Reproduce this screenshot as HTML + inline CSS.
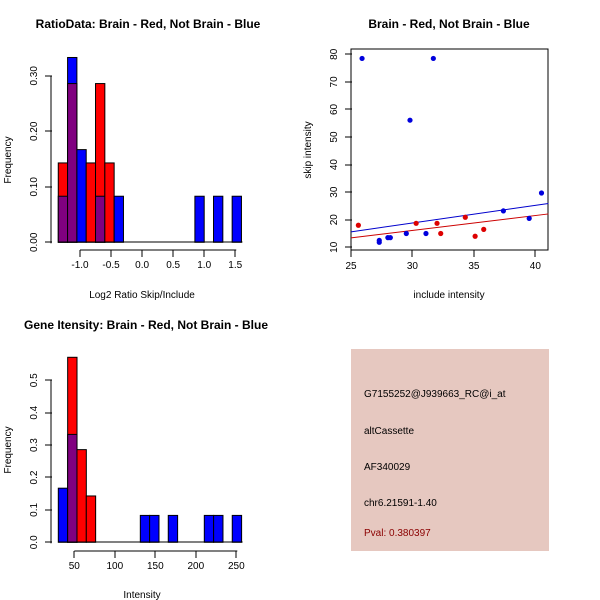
<!DOCTYPE html>
<html><head><meta charset="utf-8"><style>
body{margin:0;background:#fff}
svg{display:block;font-family:"Liberation Sans",sans-serif}
</style></head><body>
<svg id="c" width="600" height="600" viewBox="0 0 600 600">
<rect width="600" height="600" fill="#fff"/>
<text x="148" y="28" text-anchor="middle" font-size="12" font-weight="bold">RatioData: Brain - Red, Not Brain - Blue</text>
<text x="449" y="28" text-anchor="middle" font-size="12" font-weight="bold">Brain - Red, Not Brain - Blue</text>
<text x="146" y="329" text-anchor="middle" font-size="12" font-weight="bold">Gene Itensity: Brain - Red, Not Brain - Blue</text>
<text x="142" y="298" text-anchor="middle" font-size="10">Log2 Ratio Skip/Include</text>
<text x="449" y="298" text-anchor="middle" font-size="10">include intensity</text>
<text x="142" y="598" text-anchor="middle" font-size="10">Intensity</text>
<text transform="translate(11,160) rotate(-90)" text-anchor="middle" font-size="10">Frequency</text>
<text transform="translate(311,150) rotate(-90)" text-anchor="middle" font-size="10">skip intensity</text>
<text transform="translate(11,450) rotate(-90)" text-anchor="middle" font-size="10">Frequency</text>
<g>
<rect x="351" y="349" width="198" height="202" fill="#E6C8C0"/>
<text x="364" y="397" font-size="10">G7155252@J939663_RC@i_at</text>
<text x="364" y="434" font-size="10">altCassette</text>
<text x="364" y="470" font-size="10">AF340029</text>
<text x="364" y="506" font-size="10">chr6.21591-1.40</text>
<text x="364" y="536" font-size="10" fill="#8B0000">Pval: 0.380397</text>
</g>
<g id="g1"></g><g id="g2"></g><g id="g3"></g>
</svg>
<script>
// Ratio histogram data
const ratioBinLeft = [-1.35,-1.2,-1.05,-0.9,-0.75,-0.6,-0.45,0.85,1.15,1.45];
const ratioRed =     [0.143,0.286,0,0.143,0.286,0.143,0,0,0,0];
const ratioBlue =    [0.083,0.333,0.167,0,0.083,0,0.083,0.083,0.083,0.083];
const ratioBinWidth = 0.15;
const ratioXTicks = [-1.0,-0.5,0.0,0.5,1.0,1.5];
const ratioYTicks = [0,0.1,0.2,0.3];
// Scatter data
const blueX = [25.9,31.7,29.8,27.3,27.3,28.0,28.2,29.5,31.1,37.4,39.5,40.5];
const blueY = [78.5,78.5,56.1,12.5,11.8,13.5,13.5,15,15,23.2,20.5,29.7];
const redX = [25.6,30.3,32.0,32.3,34.3,35.1,35.8];
const redY = [18,18.7,18.7,15,20.9,14,16.5];
const blueFit = [15.6,25.9]; // y at x=25 and x=41.06
const redFit = [13.4,22.1];
const scatterXTicks = [25,30,35,40];
const scatterYTicks = [10,20,30,40,50,60,70,80];
// Intensity histogram data
const intBinLeft = [30.25,41.8,53.3,64.8,131.5,143,166,210.5,222,245];
const intRed =     [0,0.571,0.286,0.143,0,0,0,0,0,0];
const intBlue =    [0.167,0.333,0,0,0.083,0.083,0.083,0.083,0.083,0.083];
const intBinWidth = 11.55;
const intXTicks = [50,100,150,200,250];
const intYTicks = [0,0.1,0.2,0.3,0.4,0.5];

const NS="http://www.w3.org/2000/svg";
function mk(p,t,a){const e=document.createElementNS(NS,t);for(const k in a)e.setAttribute(k,a[k]);p.appendChild(e);return e;}
function hl(p,x1,x2,y){return mk(p,'rect',{x:Math.min(x1,x2),y:Math.round(y)-0.5,width:Math.abs(x2-x1)+1,height:1,fill:'#000'});}
function vl(p,x,y1,y2){return mk(p,'rect',{x:Math.round(x)-0.5,y:Math.min(y1,y2),width:1,height:Math.abs(y2-y1)+1,fill:'#000'});}

function hist(g,left,red,blue,w,sx,sy,xt,yt,fmt,xAxisY,yAxisX,name){
  for(let i=0;i<left.length;i++){
    const x=sx(left[i]),wd=sx(left[i]+w)-x;
    const r=red[i],b=blue[i];
    const mx=Math.max(r,b),mn=Math.min(r,b);
    if(mx>0){const e=mk(g,'rect',{x:x,y:sy(mx),width:wd,height:sy(0)-sy(mx),fill:r>=b?'#FF0000':'#0000FF',stroke:'#000','stroke-width':1});
      
      }
    if(mn>0){const e=mk(g,'rect',{x:x,y:sy(mn),width:wd,height:sy(0)-sy(mn),fill:'#800080',stroke:'#000','stroke-width':1});
      
      }
  }
  hl(g,sx(left[0]),sx(left[left.length-1]+w),sy(0));
  const xa=mk(g,'g',{});
  
  
  hl(xa,sx(xt[0]),sx(xt[xt.length-1]),xAxisY);
  xt.forEach(v=>{vl(xa,sx(v),xAxisY,xAxisY+6);
    const t=mk(xa,'text',{x:sx(v),y:xAxisY+18,'text-anchor':'middle','font-size':10});t.textContent=fmt(v);});
  const ya=mk(g,'g',{});
  
  
  vl(ya,yAxisX,sy(yt[yt.length-1]),sy(yt[0]));
  yt.forEach(v=>{hl(ya,yAxisX-6,yAxisX,sy(v));
    const t=mk(ya,'text',{transform:`translate(${yAxisX-14},${sy(v)}) rotate(-90)`,'text-anchor':'middle','font-size':10});t.textContent=(name==='ratio'?v.toFixed(2):v.toFixed(1));});
}
// plot 1
hist(document.getElementById('g1'),ratioBinLeft,ratioRed,ratioBlue,ratioBinWidth,
  v=>142.1+v*62.1, v=>242.3-v*555, ratioXTicks,ratioYTicks,v=>v.toFixed(1),250,51,'ratio');
// plot 3
hist(document.getElementById('g3'),intBinLeft,intRed,intBlue,intBinWidth,
  v=>74.3+(v-50)*0.81, v=>542.3-v*324, intXTicks,intYTicks,v=>String(v),551,51,'intensity');
// plot 2
(function(){
  const g=document.getElementById('g2');
  const sx=v=>351+(v-25)*12.29, sy=v=>247.3-(v-10)*2.757;
  mk(g,'rect',{x:351,y:49,width:197,height:201,fill:'none',stroke:'#000'});
  const xa=mk(g,'g',{});
  
  
  scatterXTicks.forEach(v=>{vl(xa,sx(v),250,256);
    const t=mk(xa,'text',{x:sx(v),y:269,'text-anchor':'middle','font-size':10});t.textContent=v;});
  const ya=mk(g,'g',{});
  
  
  scatterYTicks.forEach(v=>{hl(ya,345,351,sy(v));
    const t=mk(ya,'text',{transform:`translate(337,${sy(v)}) rotate(-90)`,'text-anchor':'middle','font-size':10});t.textContent=v;});
  const l1=mk(g,'line',{x1:sx(25),x2:sx(41.06),y1:sy(blueFit[0]),y2:sy(blueFit[1]),stroke:'#0000CC'});
  
  
  const l2=mk(g,'line',{x1:sx(25),x2:sx(41.06),y1:sy(redFit[0]),y2:sy(redFit[1]),stroke:'#CC0000'});
  
  
  blueX.forEach((x,i)=>{const c=mk(g,'circle',{cx:sx(x),cy:sy(blueY[i]),r:2.6,fill:'#0000DD'});
    
    });
  redX.forEach((x,i)=>{const c=mk(g,'circle',{cx:sx(x),cy:sy(redY[i]),r:2.6,fill:'#DD0000'});
    
    });
})();
</script>
</body></html>
